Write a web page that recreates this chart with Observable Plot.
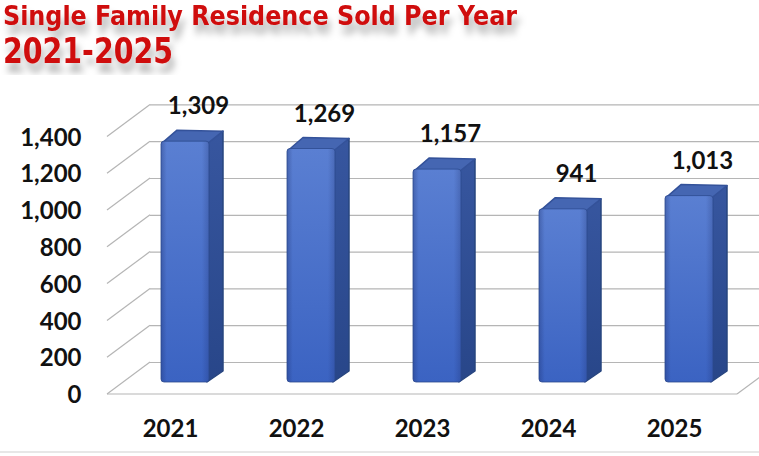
<!DOCTYPE html>
<html><head><meta charset="utf-8">
<script src="https://cdn.jsdelivr.net/npm/d3@7"></script>
<script src="https://cdn.jsdelivr.net/npm/@observablehq/plot@0.6"></script>
<style>
body{margin:0;background:#fff;width:759px;height:456px;overflow:hidden}
svg{display:block}
</style></head><body>
<svg id="header" width="759" height="75">
  <defs>
    <filter id="tshadow" x="-5%" y="-30%" width="115%" height="220%">
      <feDropShadow dx="3" dy="9" stdDeviation="3.5" flood-color="#000" flood-opacity="0.3"/>
    </filter>
  </defs>
  <text x="3" y="25" font-family="DejaVu Sans" font-weight="bold" font-size="26" fill="#cf0a0a" textLength="514" lengthAdjust="spacingAndGlyphs" filter="url(#tshadow)">Single Family Residence Sold Per Year</text>
  <text x="3" y="63" font-family="DejaVu Sans" font-weight="bold" font-size="36" fill="#cf0a0a" textLength="170" lengthAdjust="spacingAndGlyphs" filter="url(#tshadow)">2021-2025</text>
</svg>
<div id="chart"></div>
<script>
const years = ["2021", "2022", "2023", "2024", "2025"];
const sold = [1309, 1269, 1157, 941, 1013];
const yTicks = [0, 200, 400, 600, 800, 1000, 1200, 1400];

const fmt = d3.format(",");
const data = years.map((year, i) => ({year, sold: sold[i]}));
const font = {fontFamily: "Lato", fontWeight: "bold", fontSize: 24, fill: "#111"};

const chart = Plot.plot({
  width: 759, height: 381,
  marginLeft: 150, marginRight: 0, marginTop: 0, marginBottom: 0,
  x: {type: "band", domain: years, range: [81.7, 791.2], padding: 0.62, axis: null},
  y: {domain: [0, 1400], range: [307, 49.4], axis: null},
  style: {background: "transparent", overflow: "visible"},
  marks: [
    Plot.ruleY(yTicks, {y: d => d, dy: -20, stroke: "#b5b5b5", strokeWidth: 1.2}),
    Plot.barY(data, {x: "year", y: "sold", fill: "url(#frontGrad)", rx: 3}),
    Plot.barY(data, {x: "year", y: "sold", fill: "url(#edgeGrad)", stroke: "#2c4a8e", strokeWidth: 0.8, rx: 3}),
    Plot.text(data, {x: "year", y: "sold", text: d => fmt(d.sold), dx: 13, dy: -35, ...font}),
    Plot.text(yTicks, {y: d => d, text: d => fmt(d), frameAnchor: "left", textAnchor: "end", dx: -69, dy: 13, ...font}),
    Plot.text(years, {x: d => d, y: () => 0, text: d => d, dx: -15, dy: 47, ...font})
  ]
});
document.getElementById("chart").appendChild(chart);

// 3D decoration using Plot's own scales
const svg = d3.select(chart);
const sx = chart.scale("x"), sy = chart.scale("y");
const bw = sx.bandwidth;
const DX = 14, DY = -11;

const defs = svg.append("defs");
const g1 = defs.append("linearGradient").attr("id", "frontGrad").attr("x1", 0).attr("y1", 0).attr("x2", 0).attr("y2", 1);
g1.append("stop").attr("offset", "0%").attr("stop-color", "#5a7fd2");
g1.append("stop").attr("offset", "100%").attr("stop-color", "#3b63c2");
const g2 = defs.append("linearGradient").attr("id", "edgeGrad").attr("x1", 0).attr("y1", 0).attr("x2", 1).attr("y2", 0);
g2.append("stop").attr("offset", "0%").attr("stop-color", "#142056").attr("stop-opacity", 0.28);
g2.append("stop").attr("offset", "12%").attr("stop-color", "#142056").attr("stop-opacity", 0);
g2.append("stop").attr("offset", "85%").attr("stop-color", "#142056").attr("stop-opacity", 0);
g2.append("stop").attr("offset", "100%").attr("stop-color", "#142056").attr("stop-opacity", 0.22);
const g3 = defs.append("linearGradient").attr("id", "sideGrad").attr("x1", 0).attr("y1", 0).attr("x2", 0).attr("y2", 1);
g3.append("stop").attr("offset", "0%").attr("stop-color", "#37569f");
g3.append("stop").attr("offset", "100%").attr("stop-color", "#284689");

const firstBar = chart.querySelector('[aria-label="bar"]');
const deco = svg.insert("g", () => firstBar).attr("stroke", "#b5b5b5").attr("stroke-width", 1.2).attr("fill", "none");
const backL = 150, depthX = 43, front = 12, back = -20;
yTicks.forEach(v => {
  deco.append("line").attr("x1", backL - depthX).attr("y1", sy.apply(v) + front).attr("x2", backL).attr("y2", sy.apply(v) + back);
});
const y0 = sy.apply(0);
deco.append("line").attr("x1", backL - depthX).attr("y1", y0 + front).attr("x2", 737).attr("y2", y0 + front);
deco.append("line").attr("x1", 737).attr("y1", y0 + front).attr("x2", 737 + depthX).attr("y2", y0 + back);
deco.append("line").attr("x1", 0).attr("y1", y0 + 70).attr("x2", 759).attr("y2", y0 + 70).attr("stroke", "#d0d0d0");

const faces = svg.insert("g", () => firstBar).attr("stroke-linejoin", "round");
data.forEach(d => {
  const x0 = sx.apply(d.year), x1 = x0 + bw;
  const yt = sy.apply(d.sold), yb = sy.apply(0);
  faces.append("polygon")
    .attr("points", `${x1 - 2},${yb} ${x1 - 2},${yt} ${x1 + DX},${yt + DY + 1} ${x1 + DX},${yb + DY}`)
    .attr("fill", "url(#sideGrad)").attr("stroke", "#27457f").attr("stroke-width", 1.5);
  faces.append("polygon")
    .attr("points", `${x0 + 1},${yt + 2} ${x1 - 1},${yt + 2} ${x1 + DX},${yt + DY + 1} ${x0 + DX + 2},${yt + DY}`)
    .attr("fill", "#4566b2").attr("stroke", "#34529a").attr("stroke-width", 1.5);
});
</script>
</body></html>
